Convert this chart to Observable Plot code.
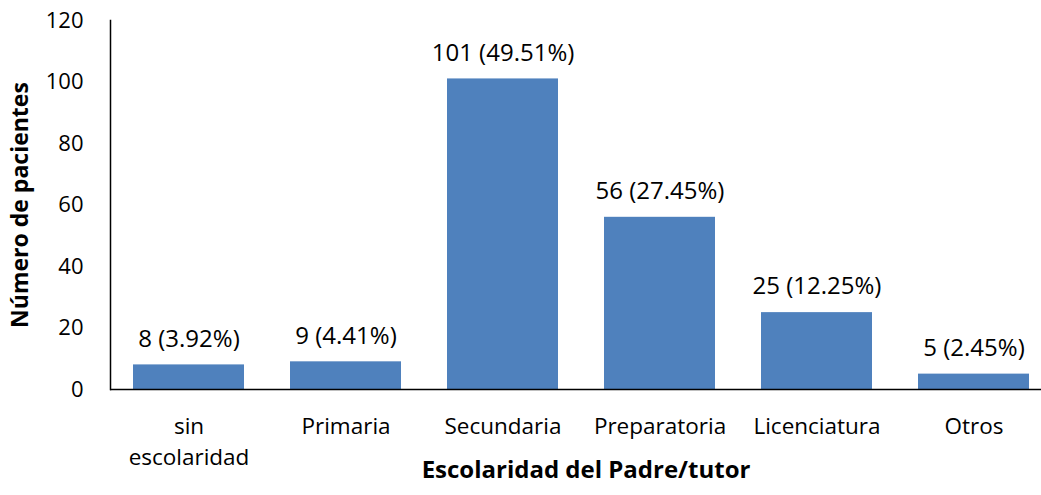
<!DOCTYPE html>
<html>
<head>
<meta charset="utf-8">
<script src="https://cdn.jsdelivr.net/npm/d3@7"></script>
<script src="https://cdn.jsdelivr.net/npm/@observablehq/plot@0.6"></script>
<style>
  html, body { margin: 0; padding: 0; background: #fff; }
  #chart { width: 1041px; height: 495px; }
</style>
</head>
<body>
<div id="chart"></div>
<script>
const categories = ["sin\nescolaridad", "Primaria", "Secundaria", "Preparatoria", "Licenciatura", "Otros"];
const values = [8, 9, 101, 56, 25, 5];
const percents = ["3.92%", "4.41%", "49.51%", "27.45%", "12.25%", "2.45%"];
const yTicks = [0, 20, 40, 60, 80, 100, 120];

const data = categories.map((c, i) => ({cat: c, n: values[i], label: `${values[i]} (${percents[i]})`}));

const FONT = "Open Sans, sans-serif";

const chart = Plot.plot({
  width: 1041,
  height: 495,
  marginLeft: 110,
  marginRight: 0,
  marginTop: 20,
  marginBottom: 106,
  style: {fontFamily: FONT, fontSize: "22px", color: "#000", background: "#fff"},
  x: {domain: categories, range: [110, 1052], paddingInner: 0.29, paddingOuter: 0.145, label: null},
  y: {domain: [0, 120], ticks: yTicks, label: null},
  marks: [
    Plot.barY(data, {x: "cat", y: "n", fill: "#4F81BD"}),
    Plot.text(data, {x: "cat", y: "n", text: "label", dy: -26, fontSize: 24, fill: "#000"}),
    Plot.axisY({ticks: yTicks, tickSize: 0, tickPadding: 27, fontSize: 22, label: null}),
    Plot.axisX({tickSize: 0, tickPadding: 22, fontSize: 22.5, lineHeight: 1.4, label: null}),
    Plot.frame({anchor: "left", stroke: "#000", strokeWidth: 1.5}),
    Plot.ruleY([0], {stroke: "#000", strokeWidth: 1.5}),
    Plot.text(["Número de pacientes"], {frameAnchor: "left", textAnchor: "middle", dx: -90, rotate: -90, fontWeight: "bold", fontSize: 23, fill: "#000"}),
    Plot.text(["Escolaridad del Padre/tutor"], {frameAnchor: "bottom", textAnchor: "middle", dx: 10, dy: 88, fontWeight: "bold", fontSize: 24, fill: "#000"})
  ]
});
document.getElementById("chart").appendChild(chart);
</script>
</body>
</html>
